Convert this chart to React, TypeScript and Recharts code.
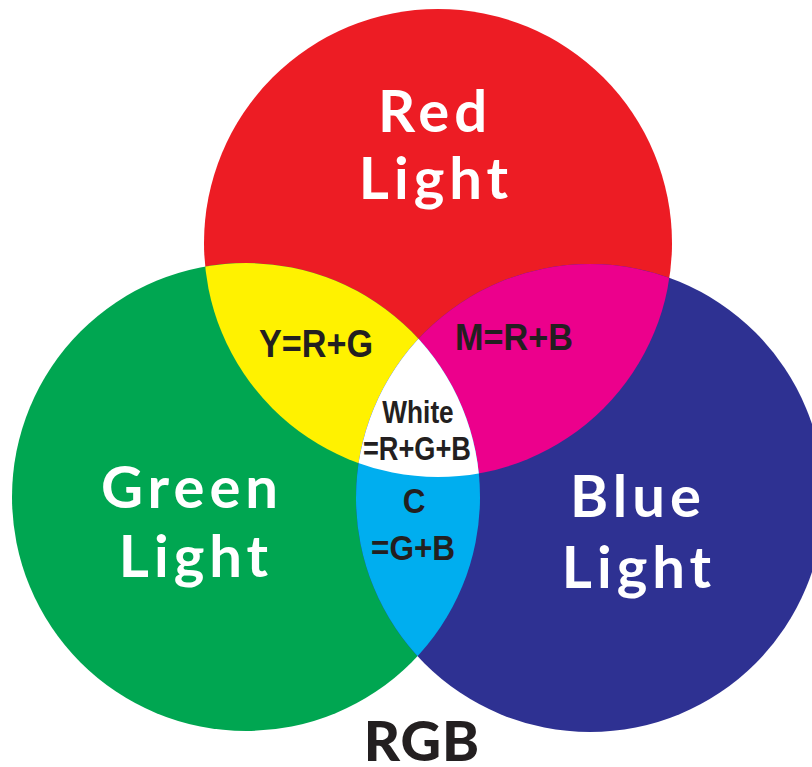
import React from 'react';
import { ScatterChart, Scatter, XAxis, YAxis, ZAxis } from 'recharts';

const W = 812;
const H = 767;

// Light circles (centre x, centre y, radius in chart units)
const circleNames = ['red', 'green', 'blue'];
const circleX = [438, 246, 590];
const circleY = [243, 497, 498];
const circleR = [234, 234, 234];
const circleColors = ['#ED1C24', '#00A651', '#2E3192'];

// Overlap regions: base circle clipped by other circles
const overlapNames = ['yellow', 'magenta', 'cyan', 'white'];
const overlapBase = ['green', 'blue', 'blue', 'red'];
const overlapClips = [['red'], ['red'], ['green'], ['green', 'blue']];
const overlapColors = ['#FFF200', '#EC008C', '#00AEEF', '#FFFFFF'];

// Text labels
const labelTexts = ['Red', 'Light', 'Green', 'Light', 'Blue', 'Light', 'RGB', 'Y=R+G', 'M=R+B', 'White', '=R+G+B', 'C', '=G+B'];
const labelX = [435, 436, 192, 196, 638, 639, 422, 316, 514, 418, 417, 414, 413];
const labelY = [132, 199, 508, 577, 517, 588, 761, 357, 350, 423, 460, 513, 560];
const labelKinds = ['big', 'big', 'big', 'big', 'big', 'big', 'title', 'yLabel', 'mLabel', 'white', 'whiteEq', 'cLabel', 'cLabel'];

const circleData = circleNames.map((name, i) => ({
  name,
  x: circleX[i],
  y: circleY[i],
  area: Math.PI * circleR[i] * circleR[i],
  color: circleColors[i],
}));

const overlapData = overlapNames.map((name, i) => {
  const b = circleNames.indexOf(overlapBase[i]);
  return {
    name,
    x: circleX[b],
    y: circleY[b],
    area: Math.PI * circleR[b] * circleR[b],
    color: overlapColors[i],
    clips: overlapClips[i],
  };
});

const labelData = labelTexts.map((text, i) => ({
  text,
  x: labelX[i],
  y: labelY[i],
  kind: labelKinds[i],
}));

const CircleShape = (props: any) => {
  const { cx, cy, width, payload } = props;
  const r = width / 2;
  return (
    <g>
      <clipPath id={`clip-${payload.name}`}>
        <circle cx={cx} cy={cy} r={r} />
      </clipPath>
      <circle cx={cx} cy={cy} r={r} fill={payload.color} />
    </g>
  );
};

const OverlapShape = (props: any) => {
  const { cx, cy, width, payload } = props;
  let node: any = <circle cx={cx} cy={cy} r={width / 2} fill={payload.color} />;
  for (const c of payload.clips) {
    node = <g clipPath={`url(#clip-${c})`}>{node}</g>;
  }
  return node;
};

const narrow = '"Liberation Sans", Arial, sans-serif';
const styles: Record<string, any> = {
  big: { font: { fontFamily: 'Lato, sans-serif', fontWeight: 700, fontSize: 58, fill: '#FFFFFF', letterSpacing: 5 }, sx: 1 },
  title: { font: { fontFamily: 'Lato, sans-serif', fontWeight: 900, fontSize: 56, fill: '#231F20', letterSpacing: 1 }, sx: 1 },
  yLabel: { font: { fontFamily: narrow, fontWeight: 700, fontSize: 38, fill: '#231F20' }, sx: 0.9 },
  mLabel: { font: { fontFamily: narrow, fontWeight: 700, fontSize: 36, fill: '#231F20' }, sx: 0.95 },
  white: { font: { fontFamily: narrow, fontWeight: 700, fontSize: 32, fill: '#231F20' }, sx: 0.82 },
  whiteEq: { font: { fontFamily: narrow, fontWeight: 700, fontSize: 34, fill: '#231F20' }, sx: 0.8 },
  cLabel: { font: { fontFamily: narrow, fontWeight: 700, fontSize: 35, fill: '#231F20' }, sx: 0.9 },
};

const LabelShape = (props: any) => {
  const { cx, cy, payload } = props;
  const s = styles[payload.kind];
  return (
    <text
      x={0}
      y={0}
      transform={`translate(${cx} ${cy}) scale(${s.sx} 1)`}
      textAnchor="middle"
      style={s.font}
    >
      {payload.text}
    </text>
  );
};

export default function App() {
  return (
    <div style={{ position: 'absolute', left: 0, top: 0, width: W, height: H, background: '#FFFFFF' }}>
      <ScatterChart width={W} height={H} margin={{ top: 0, right: 0, bottom: 0, left: 0 }}>
        <XAxis type="number" dataKey="x" domain={[0, W]} hide />
        <YAxis type="number" dataKey="y" domain={[0, H]} reversed hide />
        <ZAxis type="number" dataKey="area" domain={[0, 200000]} range={[0, 200000]} />
        <ZAxis zAxisId="lbl" type="number" range={[10, 10]} />
        <Scatter data={circleData} shape={CircleShape} isAnimationActive={false} />
        <Scatter data={overlapData} shape={OverlapShape} isAnimationActive={false} />
        <Scatter data={labelData} zAxisId="lbl" shape={LabelShape} isAnimationActive={false} />
      </ScatterChart>
    </div>
  );
}
